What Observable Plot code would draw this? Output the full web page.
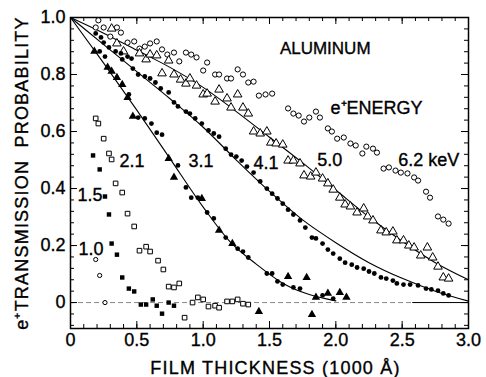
<!DOCTYPE html>
<html><head><meta charset="utf-8">
<script src="https://cdn.jsdelivr.net/npm/d3@7"></script>
<script src="https://cdn.jsdelivr.net/npm/@observablehq/plot@0.6"></script>
<style>
html,body{margin:0;padding:0;background:#fff;}
#chart svg{font-family:"Liberation Sans",Arial,sans-serif;}
</style></head><body><div id="chart"></div>
<script>
// ---- data (x = film thickness in 1000 Å, y = transmission probability) ----
const e62 = [[0.21,0.99],[0.19,0.965],[0.25,0.965],[0.35,0.965],[0.38,0.947],[0.30,0.933],[0.43,0.912],[0.48,0.916],[0.52,0.891],[0.56,0.898],[0.60,0.909],[0.65,0.916],[0.69,0.888],[0.73,0.870],[0.78,0.877],[0.82,0.846],[0.87,0.877],[0.91,0.870],[0.95,0.860],[1.00,0.814],[1.03,0.842],[1.09,0.800],[1.12,0.800],[1.18,0.786],[1.21,0.786],[1.26,0.818],[1.30,0.800],[1.34,0.772],[1.38,0.775],[1.42,0.726],[1.47,0.730],[1.52,0.733],[1.64,0.681],[1.68,0.663],[1.72,0.656],[1.76,0.635],[1.80,0.649],[1.85,0.670],[1.88,0.649],[1.94,0.611],[1.97,0.600],[2.01,0.575],[2.06,0.579],[2.11,0.558],[2.15,0.551],[2.20,0.523],[2.23,0.547],[2.28,0.540],[2.31,0.526],[2.36,0.470],[2.40,0.474],[2.45,0.463],[2.49,0.456],[2.54,0.453],[2.59,0.439],[2.62,0.428],[2.68,0.389],[2.71,0.368],[2.77,0.302],[2.81,0.291],[2.85,0.277]];
const e50 = [[0.31,0.961],[0.35,0.909],[0.40,0.881],[0.52,0.874],[0.57,0.853],[0.60,0.870],[0.65,0.867],[0.69,0.804],[0.74,0.849],[0.78,0.800],[0.83,0.782],[0.87,0.768],[0.90,0.786],[0.95,0.761],[1.00,0.730],[1.03,0.733],[1.09,0.705],[1.12,0.747],[1.18,0.716],[1.21,0.684],[1.26,0.730],[1.30,0.684],[1.34,0.663],[1.38,0.600],[1.43,0.593],[1.48,0.600],[1.51,0.561],[1.55,0.558],[1.60,0.554],[1.64,0.498],[1.68,0.498],[1.73,0.488],[1.76,0.446],[1.81,0.442],[1.85,0.456],[1.90,0.435],[1.94,0.418],[1.98,0.396],[2.03,0.368],[2.07,0.344],[2.11,0.337],[2.16,0.316],[2.21,0.330],[2.24,0.302],[2.28,0.288],[2.34,0.253],[2.38,0.246],[2.43,0.249],[2.46,0.218],[2.51,0.218],[2.55,0.200],[2.59,0.193],[2.64,0.165],[2.69,0.193],[2.73,0.158],[2.77,0.126],[2.81,0.088],[2.85,0.084]];
const e41 = [[0.19,0.944],[0.23,0.930],[0.25,0.912],[0.29,0.895],[0.34,0.881],[0.38,0.874],[0.39,0.853],[0.43,0.863],[0.46,0.856],[0.47,0.821],[0.51,0.800],[0.56,0.793],[0.60,0.786],[0.64,0.772],[0.68,0.751],[0.74,0.737],[0.78,0.702],[0.81,0.688],[0.87,0.670],[0.90,0.663],[0.94,0.646],[0.99,0.628],[1.04,0.604],[1.08,0.593],[1.12,0.582],[1.17,0.540],[1.21,0.519],[1.25,0.512],[1.29,0.498],[1.33,0.477],[1.38,0.456],[1.43,0.425],[1.48,0.400],[1.52,0.382],[1.56,0.365],[1.60,0.347],[1.64,0.326],[1.68,0.309],[1.73,0.288],[1.77,0.263],[1.82,0.228],[1.85,0.225],[1.90,0.207],[1.94,0.186],[1.98,0.172],[2.03,0.154],[2.07,0.140],[2.12,0.133],[2.16,0.123],[2.21,0.119],[2.25,0.109],[2.29,0.102],[2.34,0.088],[2.38,0.084],[2.43,0.077],[2.46,0.067],[2.51,0.063],[2.56,0.063],[2.62,0.060],[2.68,0.049],[2.72,0.046],[2.77,0.042],[2.81,0.032],[2.85,0.025]];
const e31dots = [[0.22,0.881],[0.26,0.863],[0.44,0.730],[0.51,0.649],[0.56,0.646],[0.61,0.628],[0.65,0.596],[0.69,0.589],[0.81,0.481],[0.87,0.404],[0.91,0.368],[0.96,0.368],[1.03,0.316],[1.08,0.295],[1.17,0.228],[1.26,0.189],[1.30,0.179],[1.34,0.158],[1.48,0.102],[1.52,0.102],[1.56,0.074],[1.60,0.063],[1.68,0.053],[1.73,0.049],[1.90,0.025],[1.98,0.014]];
const e31tri = [[0.18,0.881],[0.28,0.825],[0.31,0.811],[0.35,0.789],[0.39,0.765],[0.43,0.719],[0.47,0.653],[0.74,0.505],[0.78,0.439],[0.99,0.365],[1.12,0.253],[1.22,0.207],[1.64,0.091],[1.78,0.088],[1.85,0.018],[1.94,0.032],[2.03,0.035],[2.08,0.018],[1.42,-0.032],[1.82,-0.042]];
const e21 = [[0.19,0.646],[0.21,0.628],[0.25,0.575],[0.29,0.523],[0.31,0.502],[0.34,0.418],[0.39,0.386],[0.43,0.312],[0.48,0.267],[0.52,0.182],[0.57,0.196],[0.60,0.179],[0.66,0.147],[0.70,0.116],[0.74,0.056],[0.78,0.053],[0.82,0.067],[0.86,-0.053],[0.92,0.000],[0.96,0.018],[1.00,0.011],[1.04,-0.014],[1.09,-0.011],[1.12,-0.018],[1.18,0.004],[1.22,0.004],[1.26,0.011],[1.30,-0.004],[1.34,-0.007]];
const e15 = [[0.17,0.516],[0.22,0.467],[0.26,0.372],[0.29,0.309],[0.31,0.207],[0.35,0.168],[0.39,0.088],[0.44,0.049],[0.48,0.039],[0.53,-0.007],[0.57,-0.007],[0.62,0.011],[0.65,-0.011],[0.69,-0.039],[0.74,0.000],[0.78,-0.011]];
const e10 = [[0.19,0.151],[0.22,0.095],[0.26,0.000]];
// fitted curves
const fit31 = [[0,1.0],[0.25,0.84],[0.5,0.675],[0.75,0.505],[1.0,0.335],[1.2,0.215],[1.4,0.135],[1.6,0.068],[1.8,0.028],[2.0,0.006]];
const fit41 = [[0,1.0],[0.25,0.905],[0.5,0.81],[0.75,0.715],[1.0,0.615],[1.25,0.50],[1.5,0.39],[1.75,0.29],[2.0,0.21],[2.25,0.14],[2.5,0.085],[2.75,0.04],[3.0,0.005]];
const fit50 = [[0,1.0],[0.25,0.945],[0.5,0.885],[0.75,0.825],[1.0,0.755],[1.25,0.67],[1.5,0.58],[1.75,0.49],[2.0,0.395],[2.25,0.30],[2.5,0.215],[2.75,0.14],[3.0,0.08]];
// ticks
const xTicks = [0,0.5,1.0,1.5,2.0,2.5,3.0];
const xTickLabels = ["0","0.5","1.0","1.5","2.0","2.5","3.0"];
const yTicks = [0,0.2,0.4,0.6,0.8,1.0];
const yTickLabels = ["0","0.2","0.4","0.6","0.8","1.0"];
const energyLabels = ["ALUMINUM","e\u207AENERGY","6.2 keV","5.0","4.1","3.1","2.1","1.5","1.0"];
const xTitle = "FILM THICKNESS (1000 \u00C5)";
const yTitle = "e\u207ATRANSMISSION\u00A0\u00A0PROBABILITY";

// ---- layout ----
const W = 486, H = 377, mL = 70, mR = 18, mT = 17, mB = 49;
const pW = W - mL - mR, pH = H - mT - mB;
const xDomain = [0, 3.0], yDomain = [-0.091, 1.0];
const minorLen = 4, majorLen = 7;
const xMinor = d3.range(0, 3.0001, 0.1);
const yMinor = d3.range(-0.08, 1.0001, 0.04);
const zeroDashEnd = 2.58;
const labelPos = [
  {x:1.92, y:0.89, a:"middle"},
  {x:1.96, y:0.68, a:"start"},
  {x:2.47, y:0.50, a:"start"},
  {x:1.86, y:0.50, a:"start"},
  {x:1.38, y:0.49, a:"start"},
  {x:0.89, y:0.495, a:"start"},
  {x:0.37, y:0.495, a:"start"},
  {x:0.053, y:0.375, a:"start"},
  {x:0.06, y:0.186, a:"start"}
];
const ann = energyLabels.map((t, i) => ({text: t, ...labelPos[i]}));
const pts = a => a.map(([x, y]) => ({x, y}));

const fmt = (ticks, labels) => d => labels[ticks.findIndex(t => Math.abs(t - d) < 1e-9)];

const chart = Plot.plot({
  width: W, height: H,
  marginLeft: mL, marginRight: mR, marginTop: mT, marginBottom: mB,
  style: {fontSize: "18px", fontFamily: "'Liberation Sans', Arial, sans-serif", background: "#fff", color: "#000", overflow: "visible"},
  x: {domain: xDomain},
  y: {domain: yDomain},
  marks: [
    // zero reference line
    Plot.ruleY([0], {x1: 0, x2: zeroDashEnd, stroke: "#888", strokeWidth: 1, strokeDasharray: "5,3"}),
    Plot.ruleY([0], {x1: zeroDashEnd, x2: 3.0, stroke: "#000", strokeWidth: 1}),
    // inward tick marks on all four sides
    Plot.ruleX(xMinor, {insetTop: pH - minorLen, stroke: "#000"}),
    Plot.ruleX(xMinor, {insetBottom: pH - minorLen, stroke: "#000"}),
    Plot.ruleX(xTicks, {insetTop: pH - majorLen, stroke: "#000"}),
    Plot.ruleX(xTicks, {insetBottom: pH - majorLen, stroke: "#000"}),
    Plot.ruleY(yMinor, {insetRight: pW - minorLen, stroke: "#000"}),
    Plot.ruleY(yMinor, {insetLeft: pW - minorLen, stroke: "#000"}),
    Plot.ruleY(yTicks, {insetRight: pW - majorLen, stroke: "#000"}),
    Plot.ruleY(yTicks, {insetLeft: pW - majorLen, stroke: "#000"}),
    Plot.frame({stroke: "#000", strokeWidth: 1.5}),
    // fitted curves
    Plot.line(pts(fit31), {x: "x", y: "y", curve: "monotone-x", stroke: "#000", strokeWidth: 1.1}),
    Plot.line(pts(fit41), {x: "x", y: "y", curve: "monotone-x", stroke: "#000", strokeWidth: 1.1}),
    Plot.line(pts(fit50), {x: "x", y: "y", curve: "monotone-x", stroke: "#000", strokeWidth: 1.1}),
    // data points
    Plot.dot(pts(e62), {x: "x", y: "y", r: 2.6, stroke: "#000", fill: "#fff", strokeWidth: 1}),
    Plot.dot(pts(e50), {x: "x", y: "y", symbol: "triangle", r: 3.2, stroke: "#000", fill: "#fff", strokeWidth: 1}),
    Plot.dot(pts(e41), {x: "x", y: "y", r: 2.4, fill: "#000", stroke: "none"}),
    Plot.dot(pts(e31dots), {x: "x", y: "y", r: 2.4, fill: "#000", stroke: "none"}),
    Plot.dot(pts(e31tri), {x: "x", y: "y", symbol: "triangle", r: 3.1, fill: "#000", stroke: "none"}),
    Plot.dot(pts(e21), {x: "x", y: "y", symbol: "square", r: 2.6, stroke: "#000", fill: "#fff", strokeWidth: 1}),
    Plot.dot(pts(e15), {x: "x", y: "y", symbol: "square", r: 2.5, fill: "#000", stroke: "none"}),
    Plot.dot(pts(e10), {x: "x", y: "y", r: 2.1, stroke: "#000", fill: "#fff", strokeWidth: 1}),
    // axes (labels only)
    Plot.axisX(xTicks, {anchor: "bottom", tickSize: 0, tickPadding: 5, tickFormat: fmt(xTicks, xTickLabels), label: null, fontSize: 18}),
    Plot.axisY(yTicks, {anchor: "left", tickSize: 0, tickPadding: 5, tickFormat: fmt(yTicks, yTickLabels), label: null, fontSize: 18}),
    // annotations
    Plot.text(ann.filter(d => d.a === "start"), {x: "x", y: "y", text: "text", textAnchor: "start", lineAnchor: "middle", fontSize: 18, fill: "#000"}),
    Plot.text(ann.filter(d => d.a === "middle"), {x: "x", y: "y", text: "text", textAnchor: "middle", lineAnchor: "middle", fontSize: 17, fill: "#000"}),
    // axis titles
    Plot.text([xTitle], {frameAnchor: "bottom", dy: 40, dx: 6, fontSize: 18, fill: "#000", textAnchor: "middle", lineAnchor: "middle"}),
    Plot.text([yTitle], {frameAnchor: "left", dx: -48, rotate: -90, fontSize: 18, fill: "#000", textAnchor: "middle", lineAnchor: "middle"})
  ]
});
document.getElementById("chart").appendChild(chart);
d3.select(chart).selectAll("text")
  .filter(function() { return /FILM|TRANSMISSION/.test(this.textContent); })
  .attr("letter-spacing", "1.2px");
// slightly heavier strokes on text, like the printed original
d3.select(chart).selectAll("text")
  .attr("stroke", "#000").attr("stroke-width", 0.35).attr("paint-order", "normal");
</script></body></html>
